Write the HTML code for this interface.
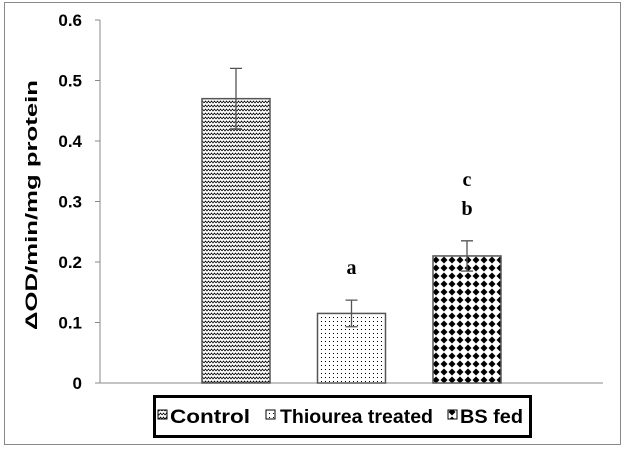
<!DOCTYPE html>
<html><head><meta charset="utf-8"><style>
body{margin:0;background:#fff}
svg{display:block;font-family:"Liberation Sans",Arial,sans-serif}
</style></head><body>
<svg width="627" height="449" viewBox="0 0 627 449">
<defs>
<pattern id="pZig" width="6" height="4" patternUnits="userSpaceOnUse">
<rect width="6" height="4" fill="#fff"/>
<polyline points="0,3 1.5,1 3,3 4.5,1 6,3" fill="none" stroke="#000" stroke-width="0.8"/>
</pattern>
<pattern id="pDot" width="4" height="4" patternUnits="userSpaceOnUse">
<rect width="4" height="4" fill="#fff"/><rect x="1" y="1" width="1" height="1" fill="#000"/>
</pattern>
<pattern id="pDia" width="8" height="8" patternUnits="userSpaceOnUse">
<rect width="8" height="8" fill="#fff"/>
<polygon points="4,0.5 7.5,4 4,7.5 0.5,4" fill="#000"/>
</pattern>
</defs>
<rect x="4.5" y="2.5" width="616" height="442" fill="#fff" stroke="#888"/>
<g id="plot"></g>
<g>
<rect x="154.5" y="396.5" width="376" height="40" fill="#fff" stroke="#000" stroke-width="3"/>
<g>
<rect x="158" y="410" width="9" height="9" fill="url(#pZig)" stroke="#000"/>
<text x="170" y="423" font-size="19" font-weight="bold" textLength="80" lengthAdjust="spacingAndGlyphs">Control</text></g>
<g>
<rect x="266" y="410" width="9" height="9" fill="url(#pDot)" stroke="#000"/>
<text x="280" y="423" font-size="19" font-weight="bold" textLength="153" lengthAdjust="spacingAndGlyphs">Thiourea treated</text></g>
<g>
<rect x="448" y="410" width="9" height="9" fill="url(#pDia)" stroke="#000"/>
<text x="460" y="423" font-size="19" font-weight="bold" textLength="63" lengthAdjust="spacingAndGlyphs">BS fed</text></g>
</g>
<text transform="translate(37,205) rotate(-90)" text-anchor="middle" font-size="17" font-weight="bold" textLength="250" lengthAdjust="spacingAndGlyphs">ΔOD/min/mg protein</text>
</svg>
<script>
const categories=["Control","Thiourea treated","BS fed"];
const values=[0.47,0.115,0.21];
const errors=[0.05,0.022,0.025];
const letters=[[],["a"],["b","c"]];
const ticks=[0,0.1,0.2,0.3,0.4,0.5,0.6];
const fills=["url(#pZig)","url(#pDot)","url(#pDia)"];
const NS="http://www.w3.org/2000/svg";
const g=document.getElementById("plot");
const y0=383,yTop=20,yMax=0.6,xL=100,xR=603;
const y=v=>y0-(v/yMax)*(y0-yTop);
const x=i=>236+i*115.5;
function mk(t,a){const e=document.createElementNS(NS,t);for(const k in a)e.setAttribute(k,a[k]);g.appendChild(e);return e;}
let ax=mk("line",{x1:xL,y1:yTop,x2:xL,y2:y0,stroke:"#888"});


let bx=mk("line",{x1:xL,y1:y0,x2:xR,y2:y0,stroke:"#888"});


ticks.forEach(t=>{
 let l=mk("line",{x1:xL-5,y1:y(t),x2:xL,y2:y(t),stroke:"#888"});
 
 
 let tx=mk("text",{x:82,y:y(t)+6,"text-anchor":"end","font-size":"17","font-weight":"bold"});
 tx.textContent=t===0?"0":t.toFixed(1);
 
 
});
values.forEach((v,i)=>{
 const cx=x(i),w=68;
 let r=mk("rect",{x:cx-w/2,y:y(v),width:w,height:y0-y(v),fill:fills[i],stroke:"#555","stroke-width":1.5});
 
 
 const t=y(v+errors[i]),b=y(v-errors[i]);
 let e=mk("path",{d:`M${cx},${t}V${b}M${cx-6},${t}H${cx+6}M${cx-6},${b}H${cx+6}`,stroke:"#555","stroke-width":1.3,fill:"none"});
 
 
 letters[i].forEach((L,j)=>{
  let tx=mk("text",{x:cx,y:t-26-j*29,"text-anchor":"middle","font-size":"20","font-weight":"bold","font-family":"Liberation Serif, serif"});
  tx.textContent=L;
  
  
 });
});
</script>
</body></html>
